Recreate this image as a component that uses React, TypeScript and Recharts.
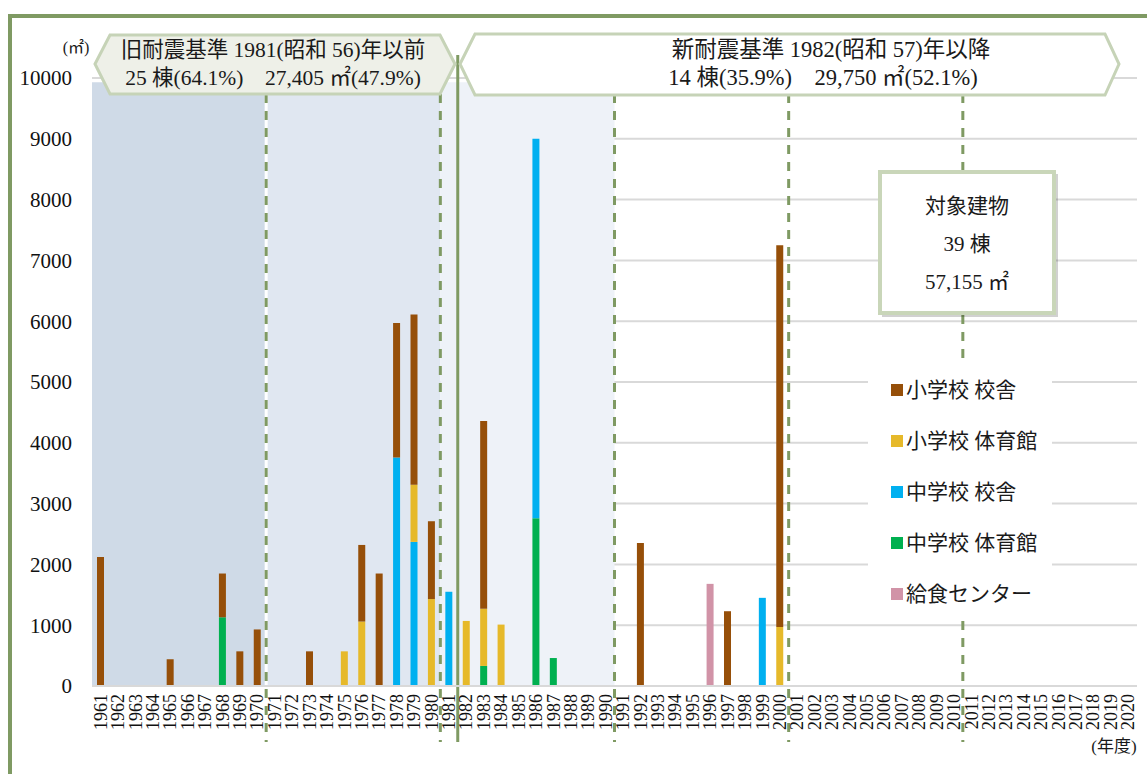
import { BarChart, Bar, XAxis, YAxis, CartesianGrid, ReferenceArea, ReferenceLine } from "recharts";

const SERIF = "'Liberation Serif', 'Noto Sans CJK JP', serif";
const FRAME_GREEN = "#7f9a63";
const BANNER_EDGE = "#c6d3b7";

const years = [
  "1961", "1962", "1963", "1964", "1965", "1966", "1967", "1968", "1969", "1970",
  "1971", "1972", "1973", "1974", "1975", "1976", "1977", "1978", "1979", "1980",
  "1981", "1982", "1983", "1984", "1985", "1986", "1987", "1988", "1989", "1990",
  "1991", "1992", "1993", "1994", "1995", "1996", "1997", "1998", "1999", "2000",
  "2001", "2002", "2003", "2004", "2005", "2006", "2007", "2008", "2009", "2010",
  "2011", "2012", "2013", "2014", "2015", "2016", "2017", "2018", "2019", "2020",
];

// 延床面積 (㎡) by year, only the years that have a building
const elemBuilding: Record<string, number> = {
  "1961": 2120, "1965": 440, "1968": 720, "1969": 570, "1970": 930, "1973": 570,
  "1976": 1260, "1977": 1850, "1978": 2210, "1979": 2800, "1980": 1280,
  "1983": 3090, "1992": 2350, "1997": 1230, "2000": 6280,
};
const elemGym: Record<string, number> = {
  "1975": 570, "1976": 1060, "1979": 940, "1980": 1430, "1982": 1070,
  "1983": 940, "1984": 1010, "2000": 970,
};
const juniorBuilding: Record<string, number> = {
  "1978": 3760, "1979": 2370, "1981": 1550, "1986": 6240, "1999": 1450,
};
const juniorGym: Record<string, number> = {
  "1968": 1130, "1983": 330, "1986": 2760, "1987": 460,
};
const kitchen: Record<string, number> = { "1996": 1680 };

const yTicks = [0, 1000, 2000, 3000, 4000, 5000, 6000, 7000, 8000, 9000, 10000];
const decadeEnds = ["1970", "1980", "1990", "2000", "2010"];
const SHADE_TOP = 9930;

// stacking order bottom -> top
const series = [
  { key: "juniorGym", name: "中学校 体育館", color: "#00b050", values: juniorGym },
  { key: "juniorBuilding", name: "中学校 校舎", color: "#00b0f0", values: juniorBuilding },
  { key: "elemGym", name: "小学校 体育館", color: "#e6b92a", values: elemGym },
  { key: "elemBuilding", name: "小学校 校舎", color: "#964f09", values: elemBuilding },
  { key: "kitchen", name: "給食センター", color: "#d193a7", values: kitchen },
];
const legendOrder = ["elemBuilding", "elemGym", "juniorBuilding", "juniorGym", "kitchen"];

const data = years.map((year) => {
  const row: Record<string, string | number> = { year };
  series.forEach((s) => {
    row[s.key] = s.values[year] ?? 0;
  });
  return row;
});

function YearTick(props: any) {
  const { x, y, payload } = props;
  return (
    <g transform={`translate(${x}, ${y}) rotate(-90)`}>
      <text
        x={0}
        y={0}
        textAnchor="end"
        dominantBaseline="central"
        fontSize={18}
        fontFamily="'Liberation Serif', serif"
        fill="#111"
      >
        {payload.value}
      </text>
    </g>
  );
}

function extendedLine(above: number, below: number, stroke: string, width: number, dash?: string) {
  return (p: any) => (
    <line
      x1={p.x1}
      x2={p.x2}
      y1={Math.min(p.y1, p.y2) - above}
      y2={Math.max(p.y1, p.y2) + below}
      stroke={stroke}
      strokeWidth={width}
      strokeDasharray={dash}
    />
  );
}

function Overlay() {
  const leftBanner = "95,64 110,35 440,35 455,64 440,94 110,94";
  const rightBanner = "460,64 475,34 1105,34 1119,64 1105,95 475,95";
  return (
    <svg
      width={1147}
      height={774}
      style={{ position: "absolute", left: 0, top: 0, pointerEvents: "none" }}
      fontFamily={SERIF}
    >
      <polyline points="10,774 10,16 1147,16" fill="none" stroke={FRAME_GREEN} strokeWidth={4} />
      <text x={76} y={53} fontSize={16} textAnchor="middle" fill="#1a1a1a">(㎡)</text>
      <text x={1114} y={752} fontSize={17} textAnchor="middle" fill="#1a1a1a">(年度)</text>

      <polygon points={leftBanner} fill="#eef0e8" stroke={BANNER_EDGE} strokeWidth={3} />
      <text x={273} y={57} fontSize={21.5} textAnchor="middle" fill="#1a1a1a">
        旧耐震基準 1981(昭和 56)年以前
      </text>
      <text x={273} y={85} fontSize={21.5} textAnchor="middle" fill="#1a1a1a">
        25 棟(64.1%)　27,405 ㎡(47.9%)
      </text>

      <polygon points={rightBanner} fill="#ffffff" stroke={BANNER_EDGE} strokeWidth={3} />
      <text x={831} y={57} fontSize={22.5} textAnchor="middle" fill="#1a1a1a">
        新耐震基準 1982(昭和 57)年以降
      </text>
      <text x={823} y={85} fontSize={22.5} textAnchor="middle" fill="#1a1a1a">
        14 棟(35.9%)　29,750 ㎡(52.1%)
      </text>

      <rect x={882} y={174} width={176} height={143} fill="rgba(0,0,0,0.18)" />
      <rect x={880} y={172} width={174} height={141} fill="#ffffff" stroke="#c9d6b9" strokeWidth={4} />
      <text x={967} y={213} fontSize={21} textAnchor="middle" fill="#1a1a1a">対象建物</text>
      <text x={967} y={251} fontSize={21} textAnchor="middle" fill="#1a1a1a">39 棟</text>
      <text x={967} y={289} fontSize={21} textAnchor="middle" fill="#1a1a1a">57,155 ㎡</text>

      <rect x={868} y={362} width={184} height={255} fill="#ffffff" />
      {legendOrder.map((key, i) => {
        const s = series.find((item) => item.key === key)!;
        const cy = 390 + i * 51;
        return (
          <g key={key}>
            <rect x={891} y={cy - 6} width={12} height={12} fill={s.color} />
            <text x={906} y={cy + 7} fontSize={21} fill="#1a1a1a">{s.name}</text>
          </g>
        );
      })}
    </svg>
  );
}

export default function App() {
  return (
    <div style={{ position: "absolute", left: 0, top: 0, width: 1147, height: 774, background: "#fff" }}>
      <BarChart
        width={1147}
        height={774}
        data={data}
        margin={{ top: 78, right: 10, bottom: 0, left: 0 }}
        barSize={7}
      >
        <ReferenceArea x1="1961" x2="1970" y1={0} y2={SHADE_TOP} fill="#cfdae7" fillOpacity={1} stroke="none" />
        <ReferenceArea x1="1971" x2="1980" y1={0} y2={SHADE_TOP} fill="#e0e7f1" fillOpacity={1} stroke="none" />
        <ReferenceArea x1="1981" x2="1990" y1={0} y2={SHADE_TOP} fill="#eef2f8" fillOpacity={1} stroke="none" />
        <CartesianGrid vertical={false} stroke="#d9d9d9" strokeWidth={2} />
        <XAxis
          dataKey="year"
          interval={0}
          tick={<YearTick />}
          tickLine={false}
          tickSize={0}
          tickMargin={8}
          axisLine={{ stroke: "#d9d9d9", strokeWidth: 2 }}
          height={88}
        />
        <YAxis
          domain={[0, 10000]}
          ticks={yTicks}
          width={92}
          axisLine={false}
          tickLine={false}
          tickSize={0}
          tickMargin={20}
          tick={{ fontSize: 21, fill: "#111", fontFamily: SERIF }}
        />
        {series.map((s) => (
          <Bar key={s.key} dataKey={s.key} name={s.name} stackId="a" fill={s.color} isAnimationActive={false} />
        ))}
        <ReferenceLine x="1970" position="end" shape={extendedLine(-4, 0, "#ffffff", 3)} />
        {decadeEnds.map((y) => (
          <ReferenceLine
            key={y}
            x={y}
            position="end"
            shape={extendedLine(-16, 56, FRAME_GREEN, 3, "9 8")}
          />
        ))}
        <ReferenceLine x="1981" position="end" shape={extendedLine(23, 56, FRAME_GREEN, 3)} />
      </BarChart>
      <Overlay />
    </div>
  );
}
